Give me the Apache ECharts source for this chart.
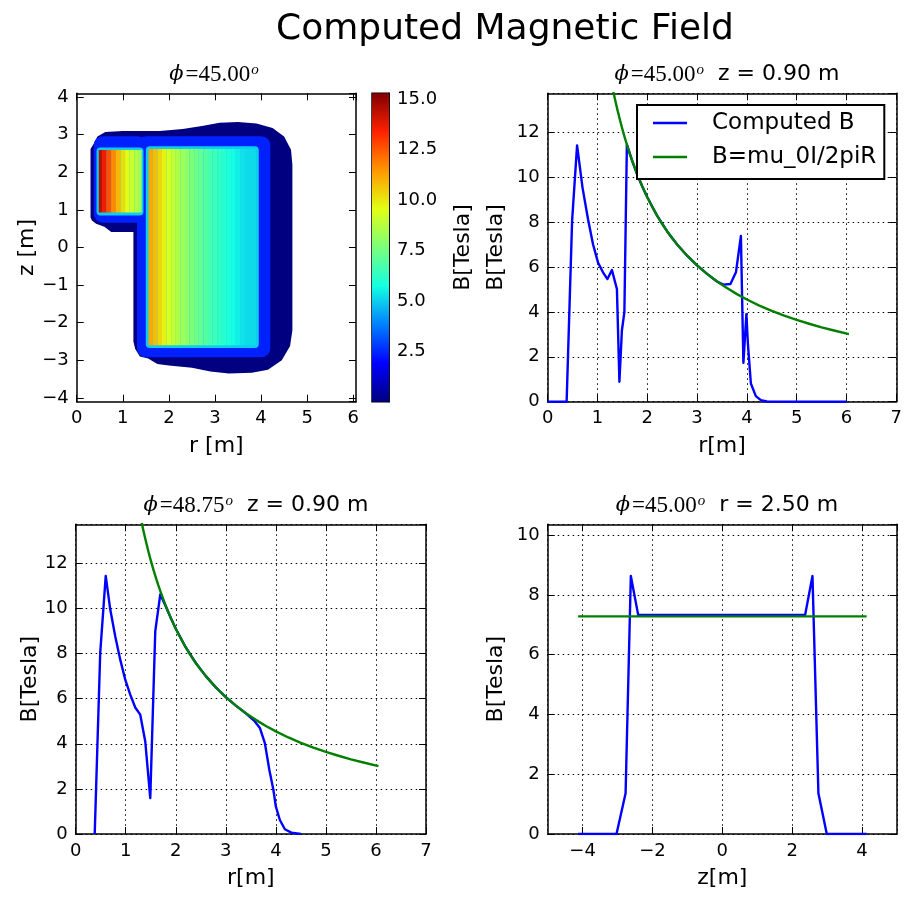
<!DOCTYPE html>
<html>
<head>
<meta charset="utf-8">
<title>Computed Magnetic Field</title>
<script src="https://cdn.jsdelivr.net/npm/echarts@6.0.0/dist/echarts.min.js"></script>
<style>
  html, body { margin: 0; padding: 0; background: #fff; }
  #chart { width: 905px; height: 898px; }
</style>
</head>
<body>
<div id="chart"></div>
<script>
// cut along r, phi = 45.00, z = 0.90 m
var rCut45 = [0.0, 0.38, 0.49, 0.59, 0.70, 0.81, 0.91, 1.01, 1.11, 1.20, 1.29, 1.39, 1.44, 1.49, 1.54, 1.59, 1.70, 1.80, 1.90, 2.00, 2.20, 2.40, 2.60, 2.80, 3.00, 3.20, 3.40, 3.53, 3.67, 3.78, 3.88, 3.93, 3.99, 4.02, 4.08, 4.18, 4.28, 4.40, 5.00, 6.00]
var bCut45 = [0, 0, 8.05, 11.41, 9.52, 8.12, 7.01, 6.20, 5.76, 5.46, 5.86, 5.02, 0.89, 3.17, 3.99, 11.44, 10.70, 10.10, 9.58, 9.10, 8.27, 7.58, 7.00, 6.50, 6.07, 5.69, 5.35, 5.21, 5.24, 5.76, 7.38, 1.73, 3.90, 2.60, 0.81, 0.25, 0.07, 0.01, 0, 0]

// cut along r, phi = 48.75, z = 0.90 m
var rCut48 = [0.38, 0.49, 0.60, 0.69, 0.79, 0.89, 0.99, 1.09, 1.19, 1.29, 1.39, 1.49, 1.59, 1.69, 1.80, 1.90, 2.00, 2.20, 2.40, 2.60, 2.80, 3.00, 3.20, 3.40, 3.58, 3.68, 3.78, 3.87, 3.95, 4.00, 4.08, 4.18, 4.31, 4.50]
var bCut48 = [0, 8.03, 11.44, 9.96, 8.77, 7.73, 6.84, 6.18, 5.61, 5.29, 4.10, 1.59, 8.99, 10.62, 10.10, 9.58, 9.10, 8.27, 7.58, 7.00, 6.50, 6.07, 5.69, 5.35, 4.99, 4.70, 4.03, 2.84, 1.96, 1.21, 0.62, 0.21, 0.06, 0]

// B = mu_0 I / 2 pi R
var rWire = [1.2, 1.25, 1.3, 1.35, 1.4, 1.45, 1.5, 1.55, 1.6, 1.65, 1.7, 1.8, 1.9, 2.0, 2.1, 2.2, 2.3, 2.4, 2.5, 2.6, 2.8, 3.0, 3.2, 3.4, 3.6, 3.8, 4.0, 4.25, 4.5, 4.75, 5.0, 5.25, 5.5, 5.75, 6.05]
var bWire = [15.17, 14.56, 14.0, 13.48, 13.0, 12.55, 12.13, 11.74, 11.38, 11.03, 10.71, 10.11, 9.58, 9.10, 8.67, 8.27, 7.91, 7.58, 7.28, 7.00, 6.50, 6.07, 5.69, 5.35, 5.06, 4.79, 4.55, 4.28, 4.04, 3.83, 3.64, 3.47, 3.31, 3.17, 3.01]

// cut along z, phi = 45.00, r = 2.50 m
var zCut = [-4.13, -3.03, -2.77, -2.62, -2.41, 2.37, 2.58, 2.75, 2.99, 4.13]
var bZCut = [0, 0, 1.36, 8.63, 7.33, 7.33, 8.63, 1.36, 0, 0]
var zWire = [-4.13, 4.13]
var bZWire = [7.28, 7.28]

// map r-z, phi = 45.00: outline of the weak field region
var haloR = [0.30, 0.30, 0.36, 0.45, 0.62, 1.0, 1.8, 2.3, 2.75, 3.1, 3.5, 3.9, 4.25, 4.5, 4.65, 4.68, 4.68, 4.63, 4.45, 4.15, 3.8, 3.3, 2.9, 2.5, 2.0, 1.75, 1.55, 1.37, 1.27, 1.23, 1.23, 0.75, 0.6, 0.42, 0.33]
var haloZ = [0.80, 2.62, 2.74, 2.95, 3.07, 3.1, 3.1, 3.15, 3.24, 3.32, 3.34, 3.3, 3.18, 2.95, 2.6, 2.2, -2.2, -2.62, -3.0, -3.25, -3.33, -3.35, -3.3, -3.2, -3.14, -3.1, -2.95, -2.9, -2.7, -2.5, 0.41, 0.41, 0.55, 0.63, 0.72]
// [r0, r1, z0, z1, B]
var glowCells = [[0.37, 1.52, 0.66, 2.96, 2.4], [1.31, 4.2, -2.92, 2.96, 2.4]]
var edgeCells = [[0.43, 1.45, 0.85, 2.66, 5.0], [1.5, 3.95, -2.67, 2.69, 5.0]]
// coil interiors, columns in r
var smallEdges = [0.48, 0.55, 0.65, 0.75, 0.85, 0.95, 1.05, 1.15, 1.25, 1.35, 1.41]
var smallB = [14.4, 13.6, 12.6, 11.7, 10.9, 10.2, 9.6, 9.1, 8.7, 8.3]
var smallZ = [0.93, 2.59]
var bigEdges = [1.56, 1.65, 1.75, 1.85, 1.95, 2.05, 2.15, 2.25, 2.35, 2.45, 2.55, 2.65, 2.75, 2.85, 2.95, 3.05, 3.15, 3.25, 3.35, 3.45, 3.55, 3.65, 3.89]
var bigB = [11.2, 10.8, 10.3, 9.8, 9.4, 9.0, 8.6, 8.3, 8.0, 7.7, 7.4, 7.2, 6.9, 6.7, 6.5, 6.3, 6.1, 5.9, 5.7, 5.5, 5.3, 5.2]
var bigZ = [-2.6, 2.62]

var cbMin = 0
var cbMax = 15.3
var jet = ['#000080', '#0000ff', '#0080ff', '#14ffe2', '#7bff7b', '#e2ff14', '#ff9700', '#ff2100', '#800000']

var FONT = 'DejaVu Sans'
var dotted = { color: '#000', width: 1, type: [1.5, 3.5] }

function pairs (xs, ys) {
  return xs.map(function (x, i) { return [x, ys[i]] })
}

function columns (edges, vals, zr) {
  return vals.map(function (v, i) { return [edges[i], edges[i + 1], zr[0], zr[1], v] })
}

function fmt (v) {
  return v < 0 ? '\u2212' + String(-v) : String(v)
}

function axis (gridIndex, position, min, max, o) {
  o = o || {}
  var ax = {
    type: 'value',
    gridIndex: gridIndex,
    position: position,
    min: min,
    max: max,
    axisLine: { show: true, onZero: false, lineStyle: { color: '#000', width: 1.5 } },
    axisTick: { show: true, inside: true, length: o.tickLen || 7, lineStyle: { color: '#000', width: 1 } },
    axisLabel: {
      show: !!o.labels,
      color: '#000',
      fontFamily: FONT,
      fontSize: 18,
      margin: 8,
      showMinLabel: !!o.showMin,
      showMaxLabel: !!o.showMax,
      formatter: o.formatter || fmt
    },
    splitLine: { show: !!o.grid, lineStyle: dotted }
  }
  if (o.interval) ax.interval = o.interval
  if (o.splitNumber) ax.splitNumber = o.splitNumber
  if (o.name) {
    ax.name = o.name
    ax.nameLocation = 'middle'
    ax.nameGap = o.nameGap
    ax.nameTextStyle = { fontFamily: FONT, fontSize: 22, color: '#000' }
  }
  if (o.hidden) ax.show = false
  return ax
}

function subTitle (cx, top, phi, rest) {
  return {
    text: '{g|\u03d5}{n|=' + phi + '}{s|o}{t|  ' + rest + '}',
    left: cx,
    top: top,
    textAlign: 'center',
    textStyle: {
      fontWeight: 'normal',
      rich: {
        g: { fontFamily: 'DejaVu Serif', fontStyle: 'italic', fontWeight: 'normal', fontSize: 21, color: '#000' },
        n: { fontFamily: 'Liberation Serif', fontWeight: 'normal', fontSize: 23, color: '#000', padding: [0, 0, 0, 2] },
        s: { fontFamily: 'Liberation Serif', fontStyle: 'italic', fontWeight: 'normal', fontSize: 15, color: '#000', verticalAlign: 'top', padding: [0, 0, 0, 1] },
        t: { fontFamily: FONT, fontWeight: 'normal', fontSize: 22, color: '#000' }
      }
    }
  }
}

function cellItem (params, api, radius) {
  var p0 = api.coord([api.value(0), api.value(3)])
  var p1 = api.coord([api.value(1), api.value(2)])
  return {
    type: 'rect',
    shape: { x: p0[0], y: p0[1], width: p1[0] - p0[0], height: p1[1] - p0[1], r: radius },
    style: { fill: api.visual('color') }
  }
}

var myChart = echarts.init(document.getElementById('chart'))

var xAxes = [
  axis(0, 'bottom', 0, 6.06, { labels: true, showMin: true, interval: 1, name: 'r [m]', nameGap: 34 }),
  axis(0, 'top', 0, 6.06, { interval: 1 }),
  axis(1, 'bottom', 0, 1, { hidden: true }),
  axis(2, 'bottom', 0, 7, { labels: true, showMin: true, showMax: true, interval: 1, grid: true, name: 'r[m]', nameGap: 34 }),
  axis(2, 'top', 0, 7, { interval: 1 }),
  axis(3, 'bottom', 0, 7, { labels: true, showMin: true, showMax: true, interval: 1, grid: true, name: 'r[m]', nameGap: 33 }),
  axis(3, 'top', 0, 7, { interval: 1 }),
  axis(4, 'bottom', -5, 5, { labels: true, splitNumber: 5, grid: true, name: 'z[m]', nameGap: 33 }),
  axis(4, 'top', -5, 5, { splitNumber: 5 })
]

var yAxes = [
  axis(0, 'left', -4.1, 4.1, { labels: true, splitNumber: 8, name: 'z [m]', nameGap: 36 }),
  axis(0, 'right', -4.1, 4.1, { splitNumber: 8 }),
  axis(1, 'right', cbMin, cbMax, {
    labels: true, interval: 2.5, tickLen: 5, name: 'B[Tesla]', nameGap: 63,
    formatter: function (v) { return v.toFixed(1) }
  }),
  axis(2, 'left', 0, 13.73, { labels: true, showMin: true, interval: 2, grid: true, name: 'B[Tesla]', nameGap: 40 }),
  axis(2, 'right', 0, 13.73, { interval: 2 }),
  axis(3, 'left', 0, 13.73, { labels: true, showMin: true, interval: 2, grid: true, name: 'B[Tesla]', nameGap: 34 }),
  axis(3, 'right', 0, 13.73, { interval: 2 }),
  axis(4, 'left', 0, 10.36, { labels: true, showMin: true, interval: 2, grid: true, name: 'B[Tesla]', nameGap: 40 }),
  axis(4, 'right', 0, 10.36, { interval: 2 })
]

function lineSeries (name, xi, data, color, top) {
  return {
    type: 'line',
    name: name,
    xAxisIndex: xi,
    yAxisIndex: xi,
    data: data,
    symbol: 'none',
    lineStyle: { color: color, width: 2.4, join: 'round' },
    itemStyle: { color: color },
    z: top ? 4 : 3,
    clip: true
  }
}

var blueName = 'Computed B'
var greenName = 'B=mu_0I/2piR'

myChart.setOption({
  animation: false,
  backgroundColor: '#fff',
  title: [
    {
      text: 'Computed Magnetic Field',
      left: 500,
      top: 7,
      textAlign: 'center',
      textStyle: { fontFamily: FONT, fontSize: 36, fontWeight: 'normal', color: '#000' }
    },
    subTitle(216, 58, '45.00', ''),
    subTitle(722, 58, '45.00', 'z = 0.90 m'),
    subTitle(251, 489, '48.75', 'z = 0.90 m'),
    subTitle(722, 489, '45.00', 'r = 2.50 m')
  ],
  legend: {
    orient: 'vertical',
    left: 637,
    top: 105,
    z: 10,
    data: [{ name: blueName, icon: 'rect' }, { name: greenName, icon: 'rect' }],
    itemWidth: 34,
    itemHeight: 2.5,
    itemGap: 8,
    padding: [5, 8, 9, 16],
    borderColor: '#000',
    borderWidth: 2,
    borderRadius: 0,
    backgroundColor: '#fff',
    selectedMode: false,
    textStyle: { fontFamily: FONT, fontSize: 23, color: '#000', padding: [0, 0, 0, 20], lineHeight: 26 }
  },
  visualMap: {
    show: false,
    type: 'continuous',
    min: cbMin,
    max: cbMax,
    dimension: 4,
    seriesIndex: [1, 2, 3],
    inRange: { color: jet }
  },
  grid: [
    { left: 76.7, top: 93.3, width: 279.3, height: 308.4 },
    { left: 372, top: 93.3, width: 17, height: 308.4, show: true, borderColor: '#000', borderWidth: 1.5 },
    { left: 547.7, top: 93.3, width: 349.3, height: 308.4 },
    { left: 75.7, top: 524.3, width: 350.3, height: 309.7 },
    { left: 547.7, top: 524.3, width: 349.3, height: 309.7 }
  ],
  xAxis: xAxes,
  yAxis: yAxes,
  series: [
    {
      type: 'custom',
      xAxisIndex: 0,
      yAxisIndex: 0,
      data: [0],
      clip: true,
      silent: true,
      renderItem: function (params, api) {
        var pts = haloR.map(function (r, i) { return api.coord([r, haloZ[i]]) })
        return { type: 'polygon', shape: { points: pts }, style: { fill: jet[0] } }
      }
    },
    {
      type: 'custom',
      xAxisIndex: 0,
      yAxisIndex: 0,
      data: glowCells,
      clip: true,
      silent: true,
      renderItem: function (params, api) { return cellItem(params, api, 9) }
    },
    {
      type: 'custom',
      xAxisIndex: 0,
      yAxisIndex: 0,
      data: edgeCells,
      clip: true,
      silent: true,
      renderItem: function (params, api) { return cellItem(params, api, 4) }
    },
    {
      type: 'custom',
      xAxisIndex: 0,
      yAxisIndex: 0,
      data: columns(smallEdges, smallB, smallZ).concat(columns(bigEdges, bigB, bigZ)),
      clip: true,
      silent: true,
      renderItem: function (params, api) { return cellItem(params, api, 0) }
    },
    {
      type: 'custom',
      xAxisIndex: 2,
      yAxisIndex: 2,
      data: [[0, 1, cbMin, cbMax]],
      silent: true,
      renderItem: function (params, api) {
        var p0 = api.coord([api.value(0), api.value(3)])
        var p1 = api.coord([api.value(1), api.value(2)])
        var stops = jet.map(function (c, i) { return { offset: i / (jet.length - 1), color: c } })
        return {
          type: 'rect',
          shape: { x: p0[0], y: p0[1], width: p1[0] - p0[0], height: p1[1] - p0[1] },
          style: { fill: new echarts.graphic.LinearGradient(0, 1, 0, 0, stops) }
        }
      }
    },
    lineSeries(blueName, 3, pairs(rCut45, bCut45), '#0000ff', false),
    lineSeries(greenName, 3, pairs(rWire, bWire), '#007f00', true),
    lineSeries(blueName, 5, pairs(rCut48, bCut48), '#0000ff', false),
    lineSeries(greenName, 5, pairs(rWire, bWire), '#007f00', true),
    lineSeries(blueName, 7, pairs(zCut, bZCut), '#0000ff', false),
    lineSeries(greenName, 7, pairs(zWire, bZWire), '#007f00', true)
  ]
})
</script>
</body>
</html>
